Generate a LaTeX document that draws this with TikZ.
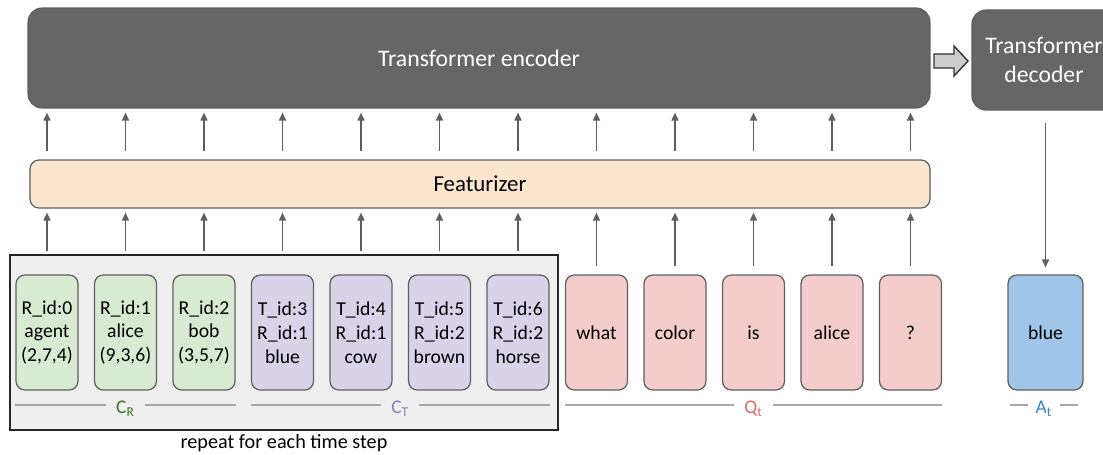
\documentclass[tikz,border=0pt]{standalone}
\usepackage{fontspec}
\setmainfont{Carlito}
\usepackage{tikz}
\usepackage{xcolor}
\usetikzlibrary{arrows.meta}
\usetikzlibrary{positioning}

\definecolor{encgray}{HTML}{666666}
\definecolor{edgegray}{HTML}{5F5F5F}
\definecolor{featfill}{HTML}{FCE5CD}
\definecolor{framefill}{HTML}{EFEFEF}
\definecolor{rfill}{HTML}{D9EAD3}
\definecolor{tfill}{HTML}{D9D2E9}
\definecolor{qfill}{HTML}{F4CCCC}
\definecolor{afill}{HTML}{9FC5E8}
\definecolor{rtext}{HTML}{38761D}
\definecolor{ttext}{HTML}{8E7CC3}
\definecolor{qtext}{HTML}{E06666}
\definecolor{atext}{HTML}{3D85C6}

\tikzset{
  token/.style={draw=edgegray,line width=0.7pt,rounded corners=5pt,minimum width=1.24cm,
    minimum height=2.3cm,inner sep=0pt,align=center,font=\fontsize{11.2}{13.6}\selectfont},
  block/.style={draw=edgegray,fill=encgray,line width=0.7pt,rounded corners=8pt,minimum height=2cm,
    text=white,align=center,font=\fontsize{13.5}{17}\selectfont},
  up/.style={draw=edgegray,line width=0.8pt,-{Triangle[length=4.5pt,width=4pt]}},
  brk/.style={draw=black!35,line width=0.7pt},
  lbl/.style={inner xsep=0.2cm,inner ysep=1pt,yshift=-2pt,font=\fontsize{11}{13}\selectfont}
}

\begin{document}
\begin{tikzpicture}[x=0.02cm,y=-0.02cm]
\useasboundingbox (0,0) rectangle (1103,454);

\node[block,minimum width=18.04cm] (enc) at (479,58) {Transformer encoder};
\node[block,minimum width=2.88cm] (dec) at (1044,60) {Transformer\\decoder};
\coordinate (pass) at (934,61);
\draw[draw=black!80,fill=black!20,line width=0.8pt,line join=miter] (pass) ++(0,-7) -- ++(20,0) -- ++(0,-8)
  -- ++(14,15) -- ++(-14,15) -- ++(0,-8) -- ++(-20,0) -- cycle;

\node[draw=edgegray,fill=featfill,line width=0.7pt,rounded corners=5pt,minimum width=18cm,
  minimum height=0.96cm,font=\fontsize{13}{15}\selectfont] (feat) at (480,184) {Featurizer};

\node[draw=black!85,fill=framefill,line width=0.8pt,minimum width=10.96cm,minimum height=3.5cm] (frame) at (284,342.5) {};
\node[font=\fontsize{11.5}{13}\selectfont] (rep) at (284,443) {repeat for each time step};

\foreach \i/\c/\t in {0/rfill/{R\_id:0\\agent\\(2,7,4)},1/rfill/{R\_id:1\\alice\\(9,3,6)},
  2/rfill/{R\_id:2\\bob\\(3,5,7)},3/tfill/{T\_id:3\\R\_id:1\\blue},4/tfill/{T\_id:4\\R\_id:1\\cow},
  5/tfill/{T\_id:5\\R\_id:2\\brown},6/tfill/{T\_id:6\\R\_id:2\\horse},7/qfill/what,8/qfill/color,
  9/qfill/is,10/qfill/alice,11/qfill/?}
{
  \node[token,fill=\c] (tok\i) at (47+78.5*\i,332.5) {\t};
}
\node[token,fill=afill,minimum width=1.5cm] (ans) at (1045.5,332.5) {blue};

\foreach \i in {0,...,11}
{
  \draw[up,shorten <=0.16cm,shorten >=0.08cm] (tok\i |- feat.north) -- (tok\i |- enc.south);
}
\foreach \i in {0,...,6}
{
  \draw[up,shorten <=0.06cm,shorten >=0.08cm] (tok\i |- frame.north) -- (tok\i |- feat.south);
}
\foreach \i in {7,...,11}
{
  \draw[up,shorten <=0.16cm,shorten >=0.08cm] (tok\i.north) -- (tok\i |- feat.south);
}
\draw[up,shorten <=0.24cm,shorten >=0.14cm] (ans |- dec.south) -- (ans.north);

\draw[brk] (tok0.west |- 0,405) -- node[lbl,fill=framefill,text=rtext] {C\textsubscript{R}} (tok2.east |- 0,405);
\draw[brk] (tok3.west |- 0,405) -- node[lbl,fill=framefill,text=ttext] {C\textsubscript{T}} (tok6.east |- 0,405);
\draw[brk] (tok7.west |- 0,405) -- node[lbl,fill=white,text=qtext] {Q\textsubscript{t}} (tok11.east |- 0,405);
\draw[brk] (1010,405) -- node[lbl,inner xsep=0.15cm,fill=white,text=atext] {A\textsubscript{t}} (1078,405);
\end{tikzpicture}
\end{document}
